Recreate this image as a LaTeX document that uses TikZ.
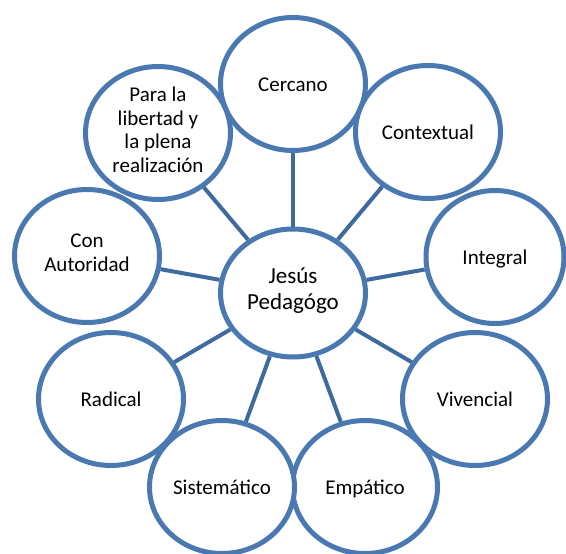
\documentclass[tikz,border=0pt]{standalone}
\usepackage{fontspec}
\setmainfont{Carlito}
\usetikzlibrary{shapes.geometric}
\definecolor{ring}{HTML}{4A78B0}
\definecolor{conn}{HTML}{3F6A9E}
\tikzset{
  bub/.style={ellipse, draw=ring, fill=white, line width=5pt, minimum width=145pt, minimum height=133pt, inner sep=0pt, align=center, font=\fontsize{21}{23.5}\selectfont, execute at begin node={\rule{0pt}{\dimexpr\ht\strutbox+6pt\relax}}, execute at end node=\strut},
  hub/.style={bub, minimum height=128pt, font=\fontsize{23}{26}\selectfont},
  link/.style={draw=conn, line width=4pt}
}
\begin{document}
\begin{tikzpicture}[x=1pt,y=-1pt]
\useasboundingbox (0,0) rectangle (566,554);
\node[hub] (c) at (293,293) {Jesús\\Pedagógo};
\node[bub] (n1) at (293,84) {Cercano};
\node[bub] (n2) at (428,132) {Contextual};
\node[bub, minimum width=138pt] (n3) at (495,257) {Integral};
\node[bub] (n4) at (475,399) {Vivencial};
\node[bub] (n5) at (365,487) {Empático};
\node[bub] (n6) at (222,487) {Sistemático};
\node[bub] (n7) at (111,399) {Radical};
\node[bub] (n8) at (87,256) {Con\\Autoridad};
\node[bub] (n9) at (158,133) {Para la\\libertad y\\la plena\\realización};
\foreach \n in {n1,n2,n3,n4,n5,n6,n7,n8,n9}{
  \draw[link] (c) -- (\n);
}
\end{tikzpicture}
\end{document}
